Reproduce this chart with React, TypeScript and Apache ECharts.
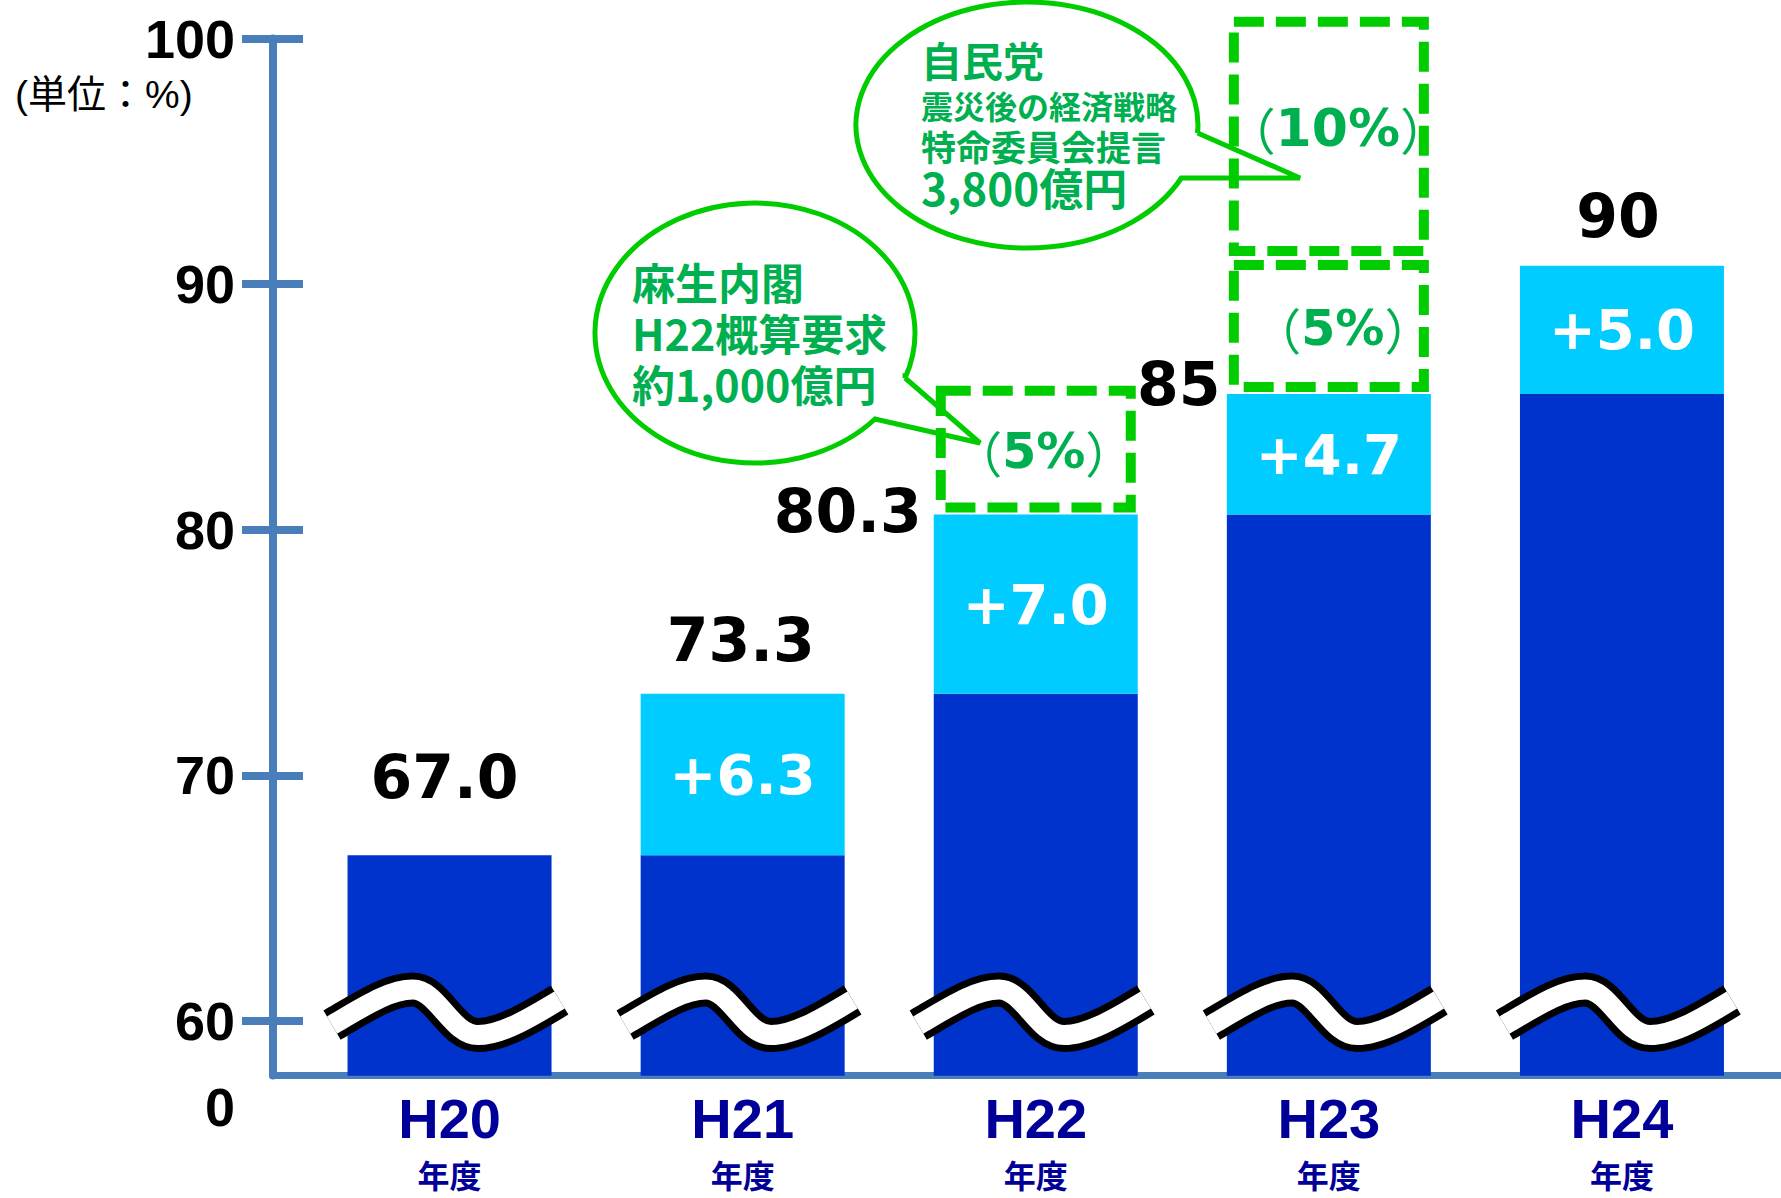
import React, { useEffect, useRef } from "react";
import * as echarts from "echarts";

// ---------- data ----------
const categories = ["H20", "H21", "H22", "H23", "H24"];
const categorySuffix = "年度";
const baseValues = [67.0, 67.0, 73.3, 80.3, 85.0];
const increments: (number | null)[] = [null, 6.3, 7.0, 4.7, 5.0];
const totals = [67.0, 73.3, 80.3, 85.0, 90.0];
const totalLabels = ["67.0", "73.3", "80.3", "85", "90"];
const incrementLabels = ["", "+6.3", "+7.0", "+4.7", "+5.0"];
const yTicks = [60, 70, 80, 90, 100];
const zeroLabel = "0";
const unitLabel = "(単位：%)";
// proposal boxes as drawn: [category index, from, to]
const proposalBoxes = [
  [2, 80.3, 85.4],
  [3, 85.0, 90.3],
  [3, 90.3, 99.8],
];
const proposalLabels = ["5%", "5%", "10%"];
const breakMarkValue = 61;
const bubbleLeftLines = ["麻生内閣", "H22概算要求", "約1,000億円"];
const bubbleRightLines = ["自民党", "震災後の経済戦略", "特命委員会提言", "3,800億円"];

// ---------- layout / style ----------
const W = 1781;
const H = 1198;
const AXIS_COLOR = "#4A7EBB";
const DARK = "#0033CC";
const LIGHT = "#00CCFF";
const NAVY = "#000099";
const GREEN_LINE = "#00CC00";
const GREEN_TEXT = "#00B050";
const totalLabelOffsets = [
  [-5, -78],
  [-2, -54],
  [-188, -3],
  [-150, -10],
  [-4, -50],
];
const proposalTextOffsets = [
  [8, 2],
  [14, 2],
  [9, -8],
];

const BUBBLE_LEFT_D = "M905.1 378 L980 443 L875 419 A160 130 0 1 1 905.1 378 Z";
const BUBBLE_RIGHT_D = "M1197.6 133 L1300 178 L1181.3 178 A171 123 0 1 1 1197.6 133 Z";
echarts.graphic.registerShape("bubbleLeft", echarts.graphic.extendPath(BUBBLE_LEFT_D, {}));
echarts.graphic.registerShape("bubbleRight", echarts.graphic.extendPath(BUBBLE_RIGHT_D, {}));

const WAVE_D = "M -117.5 16 C -85 -3 -60 -19.5 -36.7 -19.5 C -12 -19.5 2 26 28.3 26 C 52 26 82 8 110 -9";

const CJK = "Noto Sans CJK JP";

function buildOption(): any {
  const tickAxisMin = 57.77;
  const hiddenCat = { axisLine: { show: false }, axisTick: { show: false }, splitLine: { show: false } };

  return {
    animation: false,
    backgroundColor: "#ffffff",
    grid: [
      { left: 303, right: 12.5, top: 9.5, bottom: 122.3 },
      { left: 272.5, right: 0, top: 38.5, bottom: 122.4 },
    ],
    xAxis: [
      {
        gridIndex: 0,
        type: "category",
        position: "bottom",
        data: categories,
        ...hiddenCat,
        axisLabel: {
          interval: 0,
          margin: 15,
          fontFamily: "Liberation Sans",
          fontWeight: "bold",
          fontSize: 56,
          lineHeight: 56,
          color: NAVY,
        },
      },
      {
        gridIndex: 1,
        type: "value",
        min: 0,
        max: 1,
        axisLine: { show: true, lineStyle: { color: AXIS_COLOR, width: 7 } },
        axisTick: { show: false },
        axisLabel: { show: false },
        splitLine: { show: false },
      },
      {
        gridIndex: 0,
        type: "category",
        position: "bottom",
        offset: 0,
        data: categories,
        ...hiddenCat,
        axisLabel: {
          interval: 0,
          margin: 82,
          formatter: () => categorySuffix,
          fontFamily: CJK,
          fontWeight: "bold",
          fontSize: 32,
          lineHeight: 32,
          color: NAVY,
        },
      },
    ],
    yAxis: [
      { gridIndex: 0, type: "value", min: 58.4, max: 100, show: false, splitLine: { show: false } },
      {
        gridIndex: 1,
        type: "value",
        min: tickAxisMin,
        max: 100,
        position: "left",
        axisLine: { show: true, lineStyle: { color: AXIS_COLOR, width: 8 } },
        axisTick: { show: true, length: 30.5, customValues: yTicks, lineStyle: { color: AXIS_COLOR, width: 8 } },
        axisLabel: {
          customValues: yTicks,
          margin: 37.5,
          fontFamily: "Liberation Sans",
          fontWeight: "bold",
          fontSize: 54,
          color: "#000",
          padding: [0, 0, 12, 0],
        },
        splitLine: { show: false },
      },
      {
        gridIndex: 1,
        type: "value",
        min: tickAxisMin,
        max: 100,
        position: "left",
        offset: 0,
        axisLine: { show: false },
        axisTick: { show: true, inside: true, length: 30.5, customValues: yTicks, lineStyle: { color: AXIS_COLOR, width: 8 } },
        axisLabel: { show: false },
        splitLine: { show: false },
      },
    ],
    series: [
      {
        type: "bar",
        xAxisIndex: 0,
        yAxisIndex: 0,
        stack: "total",
        barWidth: 204,
        data: baseValues,
        itemStyle: { color: DARK },
        silent: true,
      },
      {
        type: "bar",
        xAxisIndex: 0,
        yAxisIndex: 0,
        stack: "total",
        barWidth: 204,
        data: increments.map((v) => (v == null ? "-" : v)),
        itemStyle: { color: LIGHT },
        silent: true,
        label: {
          show: true,
          position: "inside",
          formatter: (p: any) => incrementLabels[p.dataIndex],
          fontFamily: "DejaVu Sans",
          fontWeight: "bold",
          fontSize: 56,
          color: "#ffffff",
        },
      },
      {
        type: "custom",
        xAxisIndex: 0,
        yAxisIndex: 0,
        z: 5,
        silent: true,
        clip: false,
        data: proposalBoxes,
        renderItem: (params: any, api: any) => {
          const i = api.value(0);
          const lo = api.value(1);
          const hi = api.value(2);
          const pTop = api.coord([i, hi]);
          const pBot = api.coord([i, lo]);
          const bw = 200;
          const lw = 10;
          const gap = 2;
          const x = pTop[0] - bw / 2 + lw / 2;
          const y = pTop[1] + gap + lw / 2;
          const h = pBot[1] - gap - lw / 2 - y;
          const off = proposalTextOffsets[params.dataIndex];
          const big = proposalLabels[params.dataIndex].length > 2;
          return {
            type: "group",
            children: [
              {
                type: "rect",
                shape: { x, y, width: bw - lw, height: h },
                style: { fill: "none", stroke: GREEN_LINE, lineWidth: lw, lineDash: [30, 12] },
              },
              {
                type: "text",
                x: pTop[0] + off[0],
                y: (pTop[1] + pBot[1]) / 2 + off[1],
                style: {
                  text: `{p|（}{b|${proposalLabels[params.dataIndex]}}{p|）}`,
                  align: "center",
                  verticalAlign: "middle",
                  rich: {
                    p: { fontFamily: CJK, fontWeight: "normal", fontSize: big ? 50 : 49, fill: GREEN_TEXT },
                    b: { fontFamily: "DejaVu Sans", fontWeight: "bold", fontSize: big ? 52 : 49, fill: GREEN_TEXT },
                  },
                },
              },
            ],
          };
        },
      },
      {
        type: "custom",
        xAxisIndex: 0,
        yAxisIndex: 0,
        z: 6,
        silent: true,
        clip: false,
        data: categories.map((_, i) => [i, breakMarkValue]),
        renderItem: (params: any, api: any) => {
          const p = api.coord([api.value(0), api.value(1)]);
          return {
            type: "group",
            x: p[0],
            y: p[1],
            children: [
              { type: "path", shape: { pathData: WAVE_D }, style: { fill: "none", stroke: "#000000", lineWidth: 34 } },
              { type: "path", shape: { pathData: WAVE_D }, style: { fill: "none", stroke: "#ffffff", lineWidth: 20 } },
            ],
          };
        },
      },
      {
        type: "custom",
        xAxisIndex: 0,
        yAxisIndex: 0,
        z: 7,
        silent: true,
        clip: false,
        data: totals.map((v, i) => [i, v]),
        renderItem: (params: any, api: any) => {
          const i = params.dataIndex;
          const p = api.coord([api.value(0), api.value(1)]);
          const off = totalLabelOffsets[i];
          return {
            type: "text",
            x: p[0] + off[0],
            y: p[1] + off[1],
            style: {
              text: totalLabels[i],
              fontFamily: "DejaVu Sans",
              fontWeight: "bold",
              fontSize: 60,
              fill: "#000000",
              align: "center",
              verticalAlign: "middle",
            },
          };
        },
      },
    ],
    graphic: {
      elements: [
        { type: "bubbleLeft", x: 0, y: 0, silent: true, style: { fill: "#ffffff", stroke: GREEN_LINE, lineWidth: 5 } },
        { type: "bubbleRight", x: 0, y: 0, silent: true, style: { fill: "#ffffff", stroke: GREEN_LINE, lineWidth: 5 } },
        {
          type: "text",
          x: 632,
          y: 332,
          silent: true,
          style: {
            text: bubbleLeftLines.join("\n"),
            fontFamily: CJK,
            fontWeight: "bold",
            fontSize: 43,
            lineHeight: 51,
            fill: GREEN_TEXT,
            align: "left",
            verticalAlign: "middle",
          },
        },
        {
          type: "text",
          x: 921,
          y: 33,
          silent: true,
          style: {
            text: `{a|${bubbleRightLines[0]}}\n{b|${bubbleRightLines[1]}}\n{c|${bubbleRightLines[2]}}\n{d|${bubbleRightLines[3]}}`,
            align: "left",
            verticalAlign: "top",
            rich: {
              a: { fontFamily: CJK, fontWeight: "bold", fontSize: 41, lineHeight: 52, fill: GREEN_TEXT },
              b: { fontFamily: CJK, fontWeight: "bold", fontSize: 32, lineHeight: 40, fill: GREEN_TEXT },
              c: { fontFamily: CJK, fontWeight: "bold", fontSize: 35, lineHeight: 40, fill: GREEN_TEXT },
              d: { fontFamily: CJK, fontWeight: "bold", fontSize: 44, lineHeight: 44, fill: GREEN_TEXT },
            },
          },
        },
        {
          type: "text",
          x: 235,
          y: 1107,
          silent: true,
          style: {
            text: zeroLabel,
            fontFamily: "Liberation Sans",
            fontWeight: "bold",
            fontSize: 54,
            fill: "#000000",
            align: "right",
            verticalAlign: "middle",
          },
        },
        {
          type: "text",
          x: 15,
          y: 94,
          silent: true,
          style: {
            text: unitLabel,
            fontFamily: "Liberation Sans, Noto Sans CJK JP",
            fontWeight: "normal",
            fontSize: 39,
            fill: "#000000",
            align: "left",
            verticalAlign: "middle",
          },
        },
      ],
    },
  };
}

export default function App() {
  const ref = useRef<HTMLDivElement>(null);
  useEffect(() => {
    if (!ref.current) return;
    const chart = echarts.init(ref.current, null, { renderer: "svg", width: W, height: H });
    chart.setOption(buildOption());
    return () => chart.dispose();
  }, []);
  return (
    <div
      ref={ref}
      style={{ position: "absolute", left: 0, top: 0, width: W, height: H, background: "#ffffff" }}
    />
  );
}
